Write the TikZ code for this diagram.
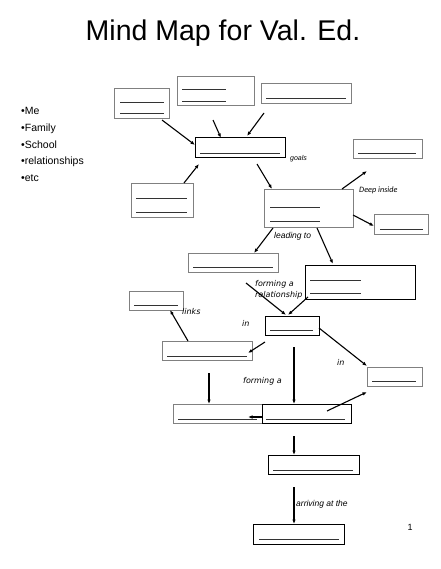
\documentclass[tikz,border=0pt]{standalone}
\usepackage{fontspec}
\setmainfont{Liberation Sans}
\newfontfamily\comicfont{DejaVu Sans}
\newfontfamily\calfont{Carlito}
\usetikzlibrary{arrows.meta}
\tikzset{
    gbox/.style={draw=gray, line width=0.9pt, inner sep=0pt},
    kbox/.style={draw=black, line width=1pt, inner sep=0pt},
    blank/.style={line width=0.8pt, gray!40!black},
    arr/.style={line width=1.1pt, -{Latex[length=4.5pt,width=3.5pt]}},
    item/.style={font=\fontsize{10.5}{12}\selectfont, inner sep=0pt, anchor=base west},
    lbl/.style={font=\fontsize{8.5}{10}\selectfont\itshape, inner sep=0pt, anchor=west},
    clbl/.style={font=\fontsize{8}{10}\comicfont\itshape, inner sep=0pt, anchor=west},
}
\begin{document}
\begin{tikzpicture}[x=1pt, y=-1pt]
    \useasboundingbox (0,0) rectangle (440,569);

    % Title and list
    \node (title) at (223,33) {\fontsize{28.5}{32}\selectfont Mind Map for Val. Ed.};
    \node[item] (me) at (21,115) {\textbullet Me};
    \node[item] (family) at (21,132) {\textbullet Family};
    \node[item] (school) at (21,148.5) {\textbullet School};
    \node[item] (rel) at (21,165) {\textbullet relationships};
    \node[item] (etc) at (21,182) {\textbullet etc};

    % Boxes
    \node[gbox, minimum width=55pt, minimum height=30pt] (topleft) at (141.5,103) {};
    \node[gbox, minimum width=77pt, minimum height=29pt] (topmid) at (215.5,90.5) {};
    \node[gbox, minimum width=90pt, minimum height=20pt] (topright) at (306,93) {};
    \node[kbox, minimum width=90pt, minimum height=20pt] (goal) at (240,148) {};
    \node[gbox, minimum width=62pt, minimum height=34pt] (left) at (162,200) {};
    \node[gbox, minimum width=69pt, minimum height=19pt] (deep) at (387.5,148.5) {};
    \node[gbox, minimum width=89pt, minimum height=38pt] (mid) at (308.5,208) {};
    \node[gbox, minimum width=54pt, minimum height=20pt] (side) at (401,224) {};
    \node[gbox, minimum width=90pt, minimum height=19pt] (lead) at (233,262.5) {};
    \node[kbox, minimum width=110pt, minimum height=34pt] (big) at (360,282) {};
    \node[kbox, minimum width=54pt, minimum height=19pt] (rship) at (292,325.5) {};
    \node[gbox, minimum width=54pt, minimum height=19pt] (links) at (156,300.5) {};
    \node[gbox, minimum width=90pt, minimum height=19pt] (inleft) at (207,350.5) {};
    \node[gbox, minimum width=55pt, minimum height=19pt] (inright) at (394.5,376.5) {};
    \node[gbox, minimum width=89pt, minimum height=19pt] (lowleft) at (217.5,413.5) {};
    \node[kbox, minimum width=89pt, minimum height=19pt] (form) at (306.5,413.5) {};
    \node[kbox, minimum width=91pt, minimum height=19pt] (next) at (313.5,464.5) {};
    \node[kbox, minimum width=91pt, minimum height=20pt] (arrive) at (298.5,534) {};

    % Blanks
    \foreach \xa/\xb/\y in {120/164/102, 120/164/113, 182/226/89, 182/226/101,
        266/346/98, 200/280/153, 136/187/198, 136/187/212, 358/416/153,
        270/320/207, 270/320/221, 380/423/229, 193/273/267, 310/361/280,
        310/361/293, 270/313/330, 134/178/305, 167/247/356, 372/416/381,
        178/257/419, 266/345/419, 273/353/470, 259/339/539}
        \draw[blank] (\xa,\y) -- (\xb,\y);

    % Arrow ends
    \coordinate (a1) at (162,120);  \coordinate (b1) at (195,145);
    \coordinate (a2) at (213,120);  \coordinate (b2) at (221,138);
    \coordinate (a3) at (264,113);  \coordinate (b3) at (247,136);
    \coordinate (a4) at (184,183);  \coordinate (b4) at (199,164);
    \coordinate (a5) at (257,164);  \coordinate (b5) at (272,189);
    \coordinate (a6) at (342,189);  \coordinate (b6) at (367,171);
    \coordinate (a7) at (353,215);  \coordinate (b7) at (374,226);
    \coordinate (a8) at (273,228);  \coordinate (b8) at (254,253);
    \coordinate (a9) at (317,228);  \coordinate (b9) at (333,264);
    \coordinate (a10) at (246,283); \coordinate (b10) at (286,315);
    \coordinate (a11) at (308,297); \coordinate (b11) at (288,315);
    \coordinate (a12) at (188,341); \coordinate (b12) at (170,310);
    \coordinate (a13) at (265,342); \coordinate (b13) at (248,353);
    \coordinate (a14) at (319,328); \coordinate (b14) at (367,366);
    \coordinate (a15) at (209,373); \coordinate (b15) at (209,404);
    \coordinate (a16) at (294,347); \coordinate (b16) at (294,404);
    \coordinate (a17) at (262,417); \coordinate (b17) at (248,417);
    \coordinate (a18) at (327,411); \coordinate (b18) at (367,392);
    \coordinate (a19) at (294,436); \coordinate (b19) at (294,455);
    \coordinate (a20) at (294,487); \coordinate (b20) at (294,524);

    % Arrows
    \foreach \i in {1,...,20}
        \draw[arr] (a\i) -- (b\i);

    % Labels
    \node[lbl, font=\fontsize{7}{8}\selectfont\itshape] (goals) at (290,159) {goals};
    \node[anchor=west, inner sep=0pt, font=\fontsize{8.2}{10}\calfont\itshape] (deepinside) at (359,190) {Deep inside};
    \node[lbl] (leading) at (274,236) {leading to};
    \node[clbl] (forming) at (255,284.5) {forming a};
    \node[clbl] (relship) at (255,295) {relationship};
    \node[clbl] (linkslbl) at (182,312) {links};
    \node[clbl] (in1) at (242,323) {in};
    \node[clbl] (in2) at (337,362) {in};
    \node[clbl] (forming2) at (243,381) {forming a};
    \node[lbl] (arriving) at (296,504) {arriving at the};
    \node (page) at (410,527) {\fontsize{9}{10}\selectfont 1};
\end{tikzpicture}
\end{document}
